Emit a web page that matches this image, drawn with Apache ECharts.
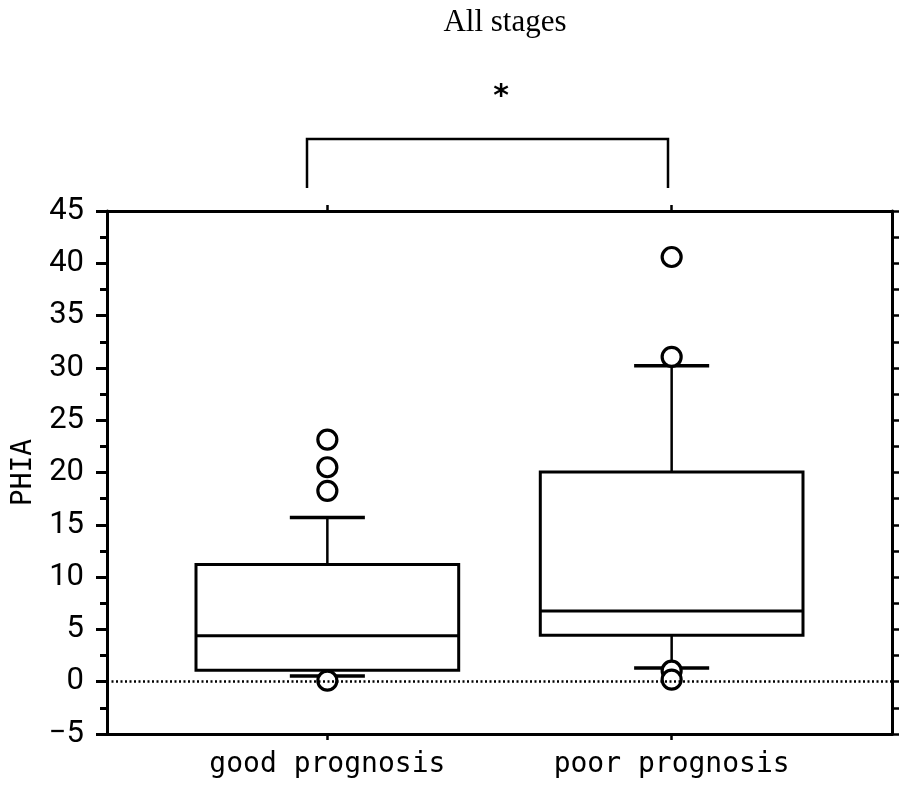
<!DOCTYPE html>
<html>
<head>
<meta charset="utf-8">
<script src="https://cdn.jsdelivr.net/npm/echarts@6/dist/echarts.min.js"></script>
<style>html,body{margin:0;padding:0;background:#fff;}#main{width:900px;height:789px;}</style>
</head>
<body>
<div id="main"></div>
<script>
// ---- data ----
const categories = ['good prognosis', 'poor prognosis'];
const whiskerLow = [0.55, 1.3];
const q1 = [1.1, 4.45];
const median = [4.4, 6.75];
const q3 = [11.2, 20.05];
const whiskerHigh = [15.7, 30.2];
const outliersGood = [23.15, 20.5, 18.25, 0.1];
const outliersPoor = [40.6, 31.05, 1.05, 0.2];
const yTicks = { min: -5, max: 45, interval: 5 };
const titleText = 'All stages';
const yName = 'PHIA';
const sigMark = '*';

// ---- build ----
const boxData = categories.map((c, i) => [i + 1, whiskerLow[i], q1[i], median[i], q3[i], whiskerHigh[i]]);
const outlierData = []
  .concat(outliersGood.map(v => [1, v]))
  .concat(outliersPoor.map(v => [2, v]));

const BOX_W = 0.763, CAP_W = 0.218;
const labelFont = '"DejaVu Sans Mono", monospace';
const numFont = '"Liberation Sans Narrow", "Roboto", sans-serif';

const chart = echarts.init(document.getElementById('main'), null, { renderer: 'canvas' });

const xCommon = { type: 'value', min: 0.36, max: 2.64, splitLine: { show: false } };
const yCommon = { type: 'value', min: yTicks.min, max: yTicks.max, interval: yTicks.interval, splitLine: { show: false } };

chart.setOption({
  animation: false,
  backgroundColor: '#fff',
  grid: { left: 107, right: 8, top: 211, bottom: 55, containLabel: false },
  xAxis: [
    Object.assign({}, xCommon, {
      position: 'bottom',
      axisLine: { show: true, onZero: false, lineStyle: { color: '#000', width: 3 } },
      axisTick: { show: true, customValues: [1, 2], inside: false, length: 6, lineStyle: { color: '#000', width: 2.5 } },
      axisLabel: {
        show: true, customValues: [1, 2], margin: 17,
        formatter: v => categories[Math.round(v) - 1] || '',
        color: '#000', fontFamily: labelFont, fontSize: 28
      }
    }),
    Object.assign({}, xCommon, {
      position: 'top',
      axisLine: { show: true, onZero: false, lineStyle: { color: '#000', width: 3 } },
      axisTick: { show: true, customValues: [1, 2], inside: false, length: 6, lineStyle: { color: '#000', width: 2.5 } },
      axisLabel: { show: false }
    })
  ],
  yAxis: [
    Object.assign({}, yCommon, {
      position: 'left',
      name: yName, nameLocation: 'middle', nameGap: 68, nameRotate: 90,
      nameTextStyle: { color: '#000', fontFamily: labelFont, fontSize: 28 },
      axisLine: { show: true, onZero: false, lineStyle: { color: '#000', width: 3 } },
      axisTick: { show: true, inside: false, length: 11, lineStyle: { color: '#000', width: 3 } },
      minorTick: { show: true, splitNumber: 2, length: 7, lineStyle: { color: '#000', width: 3 } },
      axisLabel: {
        show: true, margin: 23, color: '#000', fontFamily: numFont, fontSize: 31,
        formatter: v => String(v).replace('-', '\u2212')
      }
    }),
    Object.assign({}, yCommon, {
      position: 'right',
      axisLine: { show: true, onZero: false, lineStyle: { color: '#000', width: 3 } },
      axisTick: { show: true, inside: false, length: 7, lineStyle: { color: '#000', width: 2.5 } },
      minorTick: { show: true, splitNumber: 2, length: 7, lineStyle: { color: '#000', width: 2.5 } },
      axisLabel: { show: false }
    })
  ],
  series: [
    {
      type: 'custom',
      xAxisIndex: 0, yAxisIndex: 0,
      data: boxData,
      z: 3,
      renderItem: function (params, api) {
        const x = api.value(0), lo = api.value(1), b1 = api.value(2), md = api.value(3), b3 = api.value(4), hi = api.value(5);
        const tl = api.coord([x - BOX_W / 2, b3]);
        const br = api.coord([x + BOX_W / 2, b1]);
        const mL = api.coord([x - BOX_W / 2, md]);
        const mR = api.coord([x + BOX_W / 2, md]);
        const c3 = api.coord([x, b3]);
        const cHi = api.coord([x, hi]);
        const c1 = api.coord([x, b1]);
        const cLo = api.coord([x, lo]);
        const capHiL = api.coord([x - CAP_W / 2, hi]);
        const capHiR = api.coord([x + CAP_W / 2, hi]);
        const capLoL = api.coord([x - CAP_W / 2, lo]);
        const capLoR = api.coord([x + CAP_W / 2, lo]);
        return {
          type: 'group',
          children: [
            { type: 'line', shape: { x1: c3[0], y1: c3[1], x2: cHi[0], y2: cHi[1] }, style: { stroke: '#000', lineWidth: 2.5 } },
            { type: 'line', shape: { x1: c1[0], y1: c1[1], x2: cLo[0], y2: cLo[1] }, style: { stroke: '#000', lineWidth: 2.5 } },
            { type: 'line', shape: { x1: capHiL[0], y1: capHiL[1], x2: capHiR[0], y2: capHiR[1] }, style: { stroke: '#000', lineWidth: 3.5 } },
            { type: 'line', shape: { x1: capLoL[0], y1: capLoL[1], x2: capLoR[0], y2: capLoR[1] }, style: { stroke: '#000', lineWidth: 3.5 } },
            { type: 'rect', shape: { x: tl[0], y: tl[1], width: br[0] - tl[0], height: br[1] - tl[1] }, style: { stroke: '#000', lineWidth: 3, fill: '#fff' } },
            { type: 'line', shape: { x1: mL[0], y1: mL[1], x2: mR[0], y2: mR[1] }, style: { stroke: '#000', lineWidth: 3 } }
          ]
        };
      },
      markLine: {
        silent: true, symbol: ['none', 'none'], label: { show: false },
        lineStyle: { color: '#000', type: [2, 2.5], width: 2.5 },
        data: [{ yAxis: 0 }]
      }
    },
    {
      type: 'scatter',
      xAxisIndex: 0, yAxisIndex: 0,
      data: outlierData,
      z: 4,
      symbol: 'circle',
      symbolSize: 19,
      itemStyle: { color: '#fff', borderColor: '#000', borderWidth: 3.2, opacity: 1 }
    }
  ],
  graphic: [
    { type: 'text', x: 505, y: 23, style: { text: titleText, font: '31px "Liberation Serif", serif', fill: '#000', align: 'center', verticalAlign: 'middle' } },
    { type: 'text', x: 501, y: 97, style: { text: sigMark, font: 'bold 30px "DejaVu Sans", sans-serif', fill: '#000', align: 'center', verticalAlign: 'middle' } },
    { type: 'polyline', shape: { points: [[307, 188], [307, 139], [668, 139], [668, 188]] }, style: { stroke: '#000', lineWidth: 2.5, fill: null } }
  ]
});
</script>
</body>
</html>
